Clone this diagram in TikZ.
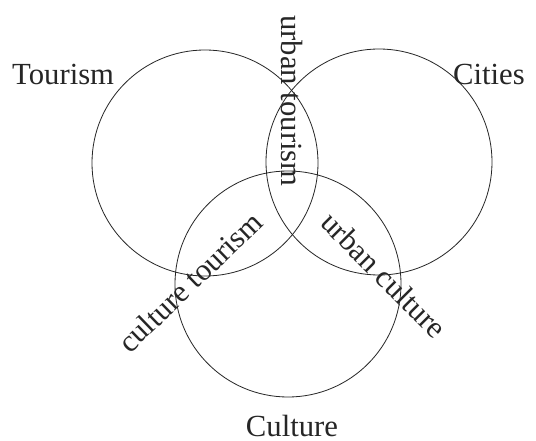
\documentclass[tikz,border=0pt]{standalone}
\usepackage{fontspec}
\setmainfont{Liberation Serif}
\begin{document}
\begin{tikzpicture}[x=1pt,y=-1pt,
  ring/.style={draw=black!85,line width=0.8pt},
  lbl/.style={font=\fontsize{30.7}{32}\selectfont,inner sep=0pt,text=black!85}]
\useasboundingbox[fill=white] (0,0) rectangle (536,441);
\node[circle,minimum size=226pt,ring] (tour) at (205,163) {};
\node[circle,minimum size=226pt,ring] (city) at (379,162) {};
\node[circle,minimum size=226pt,ring] (cult) at (288,284) {};
\node[lbl,anchor=base west] (tl) at (12,85) {Tourism};
\node[lbl,anchor=base east] (cl) at (525,85) {Cities};
\node[lbl,anchor=base] (ul) at (292,436) {Culture};
\node[lbl,rotate=-90] (ut) at (292,101) {urban tourism};
\node[lbl,rotate=44] (ct) at (190,282) {culture tourism};
\node[lbl,rotate=-45] (uc) at (384,275) {urban culture};
\end{tikzpicture}
\end{document}
